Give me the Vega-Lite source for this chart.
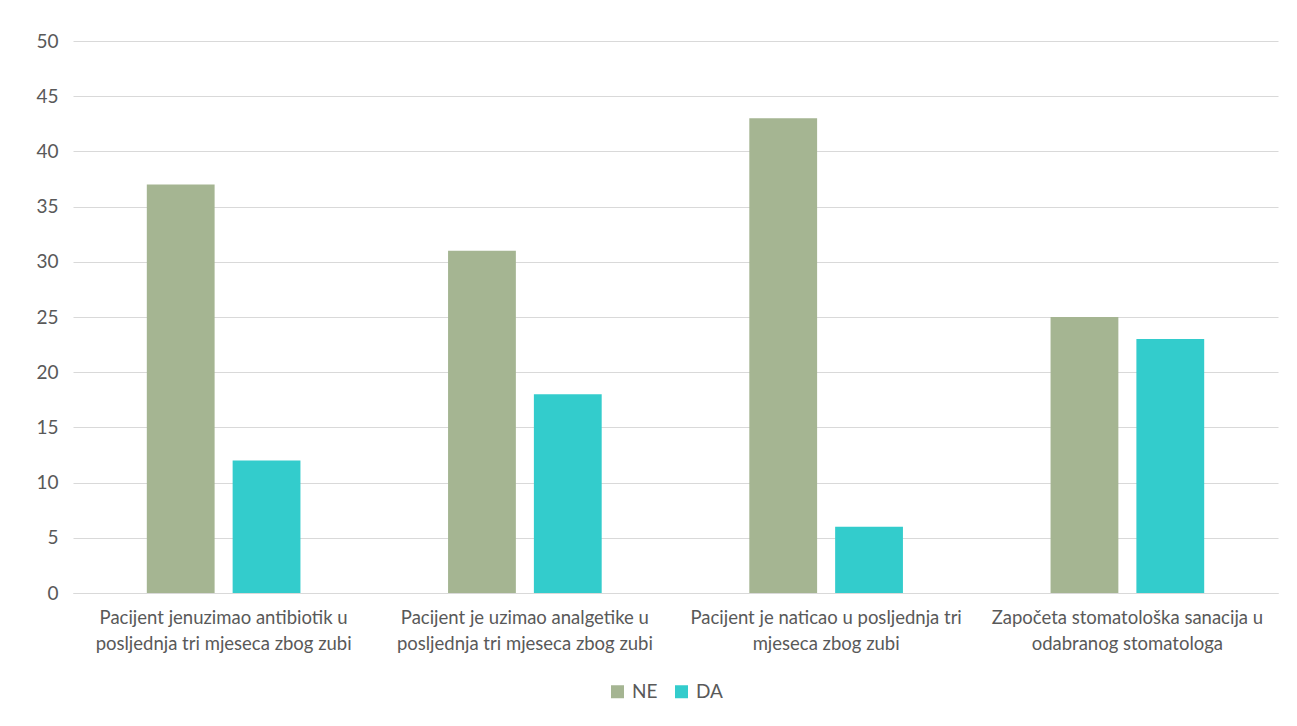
{
  "$schema": "https://vega.github.io/schema/vega-lite/v6.json",
  "width": 1205,
  "height": 552,
  "autosize": {"type": "none"},
  "padding": {"left": 73, "top": 41, "right": 19, "bottom": 133},
  "background": "white",
  "data": {
    "values": [
      {"kategorija": "Pacijent jenuzimao antibiotik u posljednja tri mjeseca zbog zubi", "odgovor": "NE", "broj": 37},
      {"kategorija": "Pacijent jenuzimao antibiotik u posljednja tri mjeseca zbog zubi", "odgovor": "DA", "broj": 12},
      {"kategorija": "Pacijent je uzimao analgetike u posljednja tri mjeseca zbog zubi", "odgovor": "NE", "broj": 31},
      {"kategorija": "Pacijent je uzimao analgetike u posljednja tri mjeseca zbog zubi", "odgovor": "DA", "broj": 18},
      {"kategorija": "Pacijent je  naticao u posljednja tri mjeseca zbog zubi", "odgovor": "NE", "broj": 43},
      {"kategorija": "Pacijent je  naticao u posljednja tri mjeseca zbog zubi", "odgovor": "DA", "broj": 6},
      {"kategorija": "Započeta stomatološka sanacija u odabranog stomatologa", "odgovor": "NE", "broj": 25},
      {"kategorija": "Započeta stomatološka sanacija u odabranog stomatologa", "odgovor": "DA", "broj": 23}
    ]
  },
  "mark": {"type": "bar"},
  "encoding": {
    "x": {
      "field": "kategorija",
      "type": "nominal",
      "sort": null,
      "title": null,
      "scale": {"paddingInner": 0.49, "paddingOuter": 0.245},
      "axis": {
        "labelAngle": 0,
        "ticks": false,
        "domain": true,
        "domainColor": "#d9d9d9",
        "domainWidth": 1,
        "labelPadding": 15,
        "labelFont": "Lato",
        "labelFontSize": 18.5,
        "labelColor": "#595959",
        "labelLineHeight": 26,
        "labelLimit": 400,
        "labelBaseline": "top",
        "labelExpr": "datum.value == 'Pacijent jenuzimao antibiotik u posljednja tri mjeseca zbog zubi' ? ['Pacijent jenuzimao antibiotik u', 'posljednja tri mjeseca zbog zubi'] : datum.value == 'Pacijent je uzimao analgetike u posljednja tri mjeseca zbog zubi' ? ['Pacijent je uzimao analgetike u', 'posljednja tri mjeseca zbog zubi'] : datum.value == 'Pacijent je  naticao u posljednja tri mjeseca zbog zubi' ? ['Pacijent je  naticao u posljednja tri', 'mjeseca zbog zubi'] : ['Započeta stomatološka sanacija u', 'odabranog stomatologa']"
      }
    },
    "xOffset": {
      "field": "odgovor",
      "type": "nominal",
      "sort": ["NE", "DA"],
      "scale": {"paddingInner": 0.21, "paddingOuter": 0}
    },
    "y": {
      "field": "broj",
      "type": "quantitative",
      "title": null,
      "scale": {"domain": [0, 50], "nice": false},
      "axis": {
        "values": [0, 5, 10, 15, 20, 25, 30, 35, 40, 45, 50],
        "domain": false,
        "ticks": false,
        "grid": true,
        "gridColor": "#d9d9d9",
        "gridWidth": 1,
        "labelPadding": 15,
        "labelFont": "Lato",
        "labelFontSize": 19,
        "labelColor": "#595959"
      }
    },
    "color": {
      "field": "odgovor",
      "type": "nominal",
      "sort": ["NE", "DA"],
      "scale": {"domain": ["NE", "DA"], "range": ["#A5B592", "#33CCCC"]},
      "legend": {
        "title": null,
        "orient": "none",
        "legendX": 535,
        "legendY": 641,
        "direction": "horizontal",
        "symbolType": "square",
        "symbolSize": 169,
        "symbolStrokeWidth": 0,
        "labelFont": "Lato",
        "labelFontSize": 19,
        "labelColor": "#595959",
        "columnPadding": 14,
        "labelOffset": 5
      }
    }
  },
  "config": {
    "view": {"stroke": null},
    "font": "Lato"
  }
}
